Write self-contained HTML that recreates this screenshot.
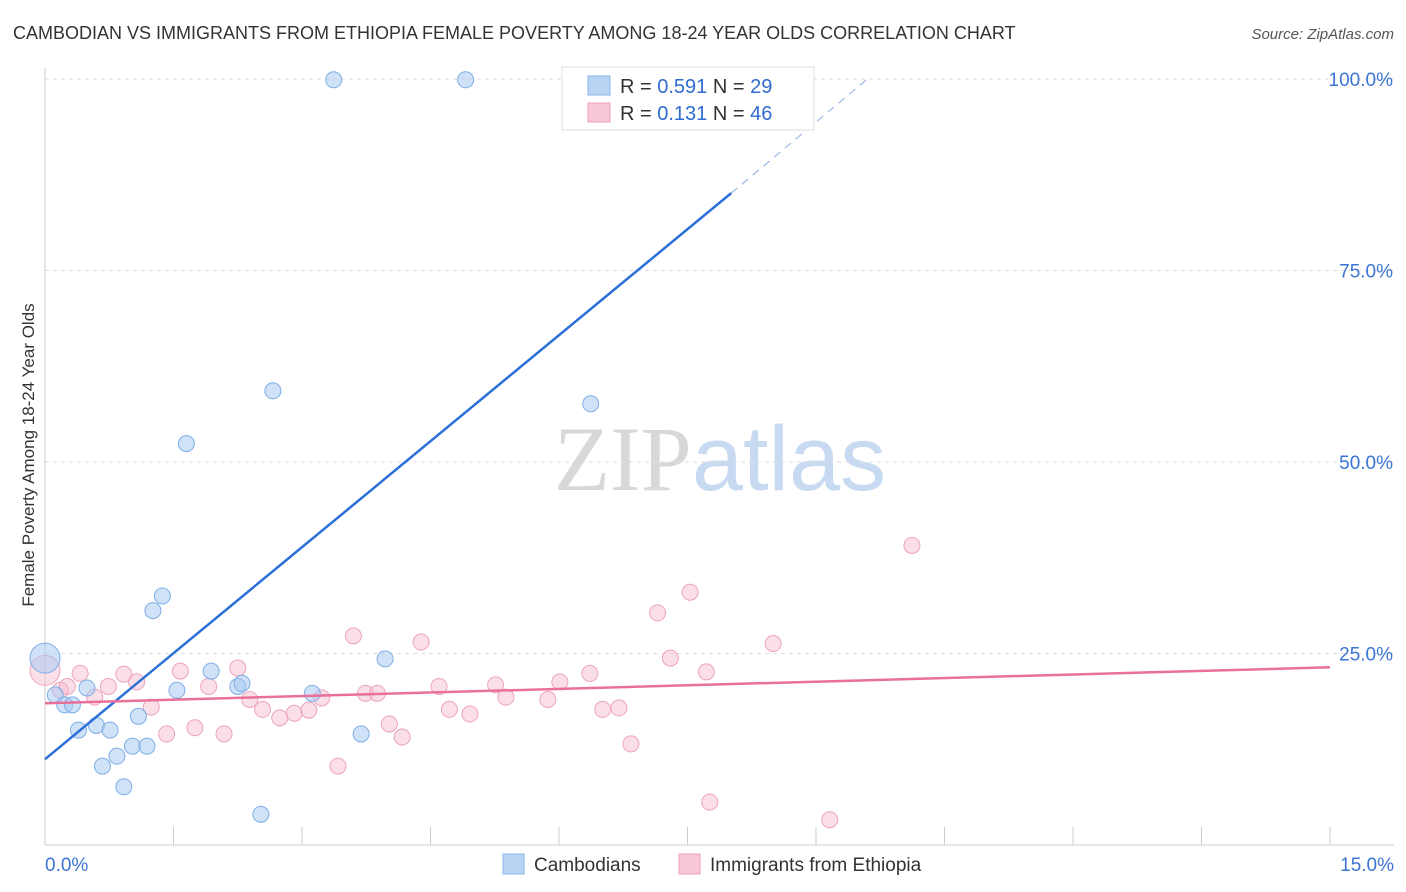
<!DOCTYPE html>
<html><head><meta charset="utf-8"><style>
body{margin:0;background:#fff;font-family:"Liberation Sans",sans-serif;}
svg{display:block}
</style></head><body>
<svg id="chart" width="1406" height="892" xmlns="http://www.w3.org/2000/svg">
<text x="13" y="39" font-size="18" fill="#333">CAMBODIAN VS IMMIGRANTS FROM ETHIOPIA FEMALE POVERTY AMONG 18-24 YEAR OLDS CORRELATION CHART</text>
<text x="1394" y="39" font-size="15" fill="#555" font-style="italic" text-anchor="end">Source: ZipAtlas.com</text>
<text x="720" y="490" font-size="92" text-anchor="middle"><tspan fill="#d8d8d8" font-family="Liberation Serif">ZIP</tspan><tspan fill="#c8daf2">atlas</tspan></text>
<text transform="translate(34,455) rotate(-90)" font-size="17" fill="#333" text-anchor="middle">Female Poverty Among 18-24 Year Olds</text>
<g id="grid"></g><g id="axes"></g><g id="pts"></g><g id="lines"></g>
<g>
<rect x="562" y="67" width="252" height="63" fill="#fff" stroke="#ddd"/>
<rect x="588" y="76" width="22" height="19" fill="#b9d3f5" stroke="#8ab4e8"/>
<rect x="588" y="103" width="22" height="19" fill="#f9c8d6" stroke="#f0a0ba"/>
<text x="620" y="93" font-size="20" fill="#333">R = <tspan fill="#2f6bd0">0.591</tspan>   N = <tspan fill="#2f6bd0">29</tspan></text>
<text x="620" y="120" font-size="20" fill="#333">R =  <tspan fill="#2f6bd0">0.131</tspan>   N = <tspan fill="#2f6bd0">46</tspan></text>
</g>
<g>
<rect x="503" y="854" width="21" height="20" fill="#b9d3f5" stroke="#8ab4e8"/>
<text x="534" y="871" font-size="19" fill="#333">Cambodians</text>
<rect x="679" y="854" width="21" height="20" fill="#f9c8d6" stroke="#f0a0ba"/>
<text x="710" y="871" font-size="19" fill="#333">Immigrants from Ethiopia</text>
</g>
</svg>
<script>
const xTicks=[0,1.5,3,4.5,6,7.5,9,10.5,12,13.5,15];
const yTicks=[25,50,75,100];
const yTickLabels=["25.0%","50.0%","75.0%","100.0%"];
const xLabels=["0.0%","15.0%"];
const blueX=[0,0.12,0.23,0.32,0.39,0.49,0.60,0.67,0.76,0.84,0.92,1.02,1.09,1.19,1.26,1.37,1.54,1.65,1.94,2.25,2.30,2.52,2.66,3.12,3.37,3.69,3.97,4.91,6.37];
const blueY=[24.4,19.6,18.3,18.3,15.0,20.5,15.6,10.3,15.0,11.6,7.6,12.9,16.8,12.9,30.6,32.5,20.2,52.4,22.7,20.7,21.1,4.0,59.3,19.8,99.9,14.5,24.3,99.9,57.6];
const pinkX=[0,0.18,0.26,0.41,0.58,0.74,0.92,1.07,1.24,1.42,1.58,1.75,1.91,2.09,2.25,2.39,2.54,2.74,2.91,3.08,3.23,3.42,3.60,3.74,3.88,4.02,4.17,4.39,4.60,4.72,4.96,5.26,5.38,5.87,6.01,6.36,6.51,6.70,6.84,7.15,7.30,7.53,7.72,7.76,8.50,9.16,10.12];
const pinkY=[22.8,20.2,20.7,22.4,19.3,20.7,22.3,21.3,18.0,14.5,22.7,15.3,20.7,14.5,23.1,19.0,17.7,16.6,17.2,17.6,19.2,10.3,27.3,19.8,19.8,15.8,14.1,26.5,20.7,17.7,17.1,20.9,19.3,19.0,21.3,22.4,17.7,17.9,13.2,30.3,24.4,33.0,22.6,5.6,26.3,3.3,39.1];
const blueLine=[[0,11.2],[8.01,85.1],[9.6,100]];
const pinkLine=[[0,18.5],[15,23.2]];
const NS="http://www.w3.org/2000/svg";
const X=v=>45+v*(1285/15), Y=v=>845-v*7.66;
function mk(tag,attrs,parent){const e=document.createElementNS(NS,tag);for(const k in attrs)e.setAttribute(k,attrs[k]);document.getElementById(parent).appendChild(e);return e;}
yTicks.forEach((t,i)=>{
 const g=mk('line',{x1:45,x2:1394,y1:Y(t),y2:Y(t),stroke:'#ddd','stroke-dasharray':'4,4'},'grid');
 
 
 const l=mk('text',{x:1393,y:Y(t)+7,'font-size':19,fill:'#3b74d4','text-anchor':'end'},'axes');
 l.textContent=yTickLabels[i];
 
 
});
const ax=mk('line',{x1:45,x2:1394,y1:845,y2:845,stroke:'#ccc'},'axes');


const ay=mk('line',{x1:45,x2:45,y1:68,y2:845,stroke:'#ccc'},'axes');


xTicks.forEach(t=>{
 const k=mk('line',{x1:X(t),x2:X(t),y1:827,y2:845,stroke:'#ccc'},'axes');
 
 
});
[[0,'start',45],[15,'end',1394]].forEach((d,i)=>{
 const l=mk('text',{x:d[2],y:871,'font-size':19,fill:'#3b74d4','text-anchor':d[1]},'axes');
 l.textContent=xLabels[i];
 
 
});
function pts(xs,ys,fill,stroke,name){xs.forEach((x,i)=>{
 const c=mk('circle',{cx:X(x),cy:Y(ys[i]),r:i===0?15:8,fill:fill,stroke:stroke,'stroke-width':1},'pts');
 
 
});}
pts(pinkX,pinkY,'rgba(247,185,205,0.45)','#eea3bb','ethiopia-point');
pts(blueX,blueY,'rgba(170,202,242,0.55)','#7eaee6','cambodian-point');
const b1=mk('line',{x1:X(blueLine[0][0]),y1:Y(blueLine[0][1]),x2:X(blueLine[1][0]),y2:Y(blueLine[1][1]),stroke:'#2b6fd8','stroke-width':2.5},'lines');


const b2=mk('line',{x1:X(blueLine[1][0]),y1:Y(blueLine[1][1]),x2:X(blueLine[2][0]),y2:Y(blueLine[2][1]),stroke:'#9bb9e6','stroke-width':1.2,'stroke-dasharray':'8,6'},'lines');


const p1=mk('line',{x1:X(pinkLine[0][0]),y1:Y(pinkLine[0][1]),x2:X(pinkLine[1][0]),y2:Y(pinkLine[1][1]),stroke:'#e8709a','stroke-width':2.5},'lines');


</script>
</body></html>
